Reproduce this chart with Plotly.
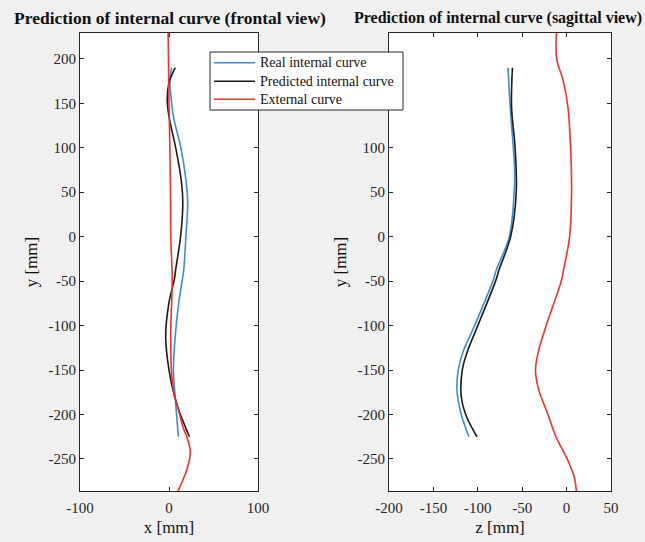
import plotly.graph_objects as go

# ---------------- data (mm) ----------------
# Frontal view (x vs y)
front_ext_y = [229, 200, 150, 100, 50, 0, -40, -56, -75, -100, -125, -150, -175, -200, -215, -225, -242, -262, -275, -286]
front_ext_x = [-1, -0.6, 0, 1, 1.7, 2, 3.5, 3.5, 3, 2, 2, 2.7, 5.5, 12, 16, 20, 24, 20, 15, 10]

front_real_y = [190, 176, 160, 135, 100, 64, 38, 0, -37, -48, -74, -112, -150, -187, -225]
front_real_x = [3, 1, 2, 5, 13.3, 19, 21, 19, 16.6, 15, 11, 7, 5, 7.5, 10.6]

front_pred_y = [190, 173, 154, 135, 100, 64, 38, 0, -37, -48, -74, -112, -150, -180, -198, -213, -225]
front_pred_x = [7, 0, -2, 0, 7.5, 13.7, 15.5, 13, 7.5, 6, 0, -3.7, 0, 6.3, 12, 18, 23]

# Sagittal view (z vs y)
sag_ext_y = [229, 199, 176, 146, 100, 50, 0, -37, -50, -100, -130, -150, -170, -200, -225, -250, -270, -286]
sag_ext_z = [-11.5, -11, -4, 1.5, 4.5, 5.6, 3.4, -3.4, -6, -23, -32, -35, -32, -21, -12, 0.7, 8.5, 11]

sag_real_y = [190, 146, 100, 75, 50, 0, -37, -50, -100, -130, -150, -172, -200, -225]
sag_real_z = [-66, -63.5, -60, -58.5, -59, -64.5, -79, -83, -103.6, -116.8, -122, -123.5, -118.6, -110]

sag_pred_y = [190, 146, 100, 50, 0, -37, -50, -100, -130, -150, -180, -200, -225]
sag_pred_z = [-61, -62, -58, -56.7, -63, -76, -80, -100, -112, -117.5, -118.6, -113.7, -101]

names = ["Real internal curve", "Predicted internal curve", "External curve"]
colors = ["#3a8ed6", "#1a1a1a", "#ff2a2a"]

x_ticks_front = [-100, 0, 100]
x_ticks_sag = [-200, -150, -100, -50, 0, 50]
y_ticks = [-250, -200, -150, -100, -50, 0, 50, 100, 150, 200]

titles = ["Prediction of internal curve (frontal view)", "Prediction of internal curve (sagittal view)"]

FONT = "Liberation Serif, Times New Roman, serif"
AX = "#262626"


def labels(vals):
    return [str(v) for v in vals]  # plain hyphen-minus like the original


fig = go.Figure()

front = [(front_real_x, front_real_y), (front_pred_x, front_pred_y), (front_ext_x, front_ext_y)]
sag = [(sag_real_z, sag_real_y), (sag_pred_z, sag_pred_y), (sag_ext_z, sag_ext_y)]

for i, (xs, ys) in enumerate(front):
    fig.add_trace(go.Scatter(x=xs, y=ys, mode="lines", name=names[i],
                             line=dict(color=colors[i], width=1.6, shape="spline", smoothing=1.0),
                             xaxis="x", yaxis="y", showlegend=False))
for i, (xs, ys) in enumerate(sag):
    fig.add_trace(go.Scatter(x=xs, y=ys, mode="lines", name=names[i],
                             line=dict(color=colors[i], width=1.6, shape="spline", smoothing=1.0),
                             xaxis="x2", yaxis="y2", showlegend=False))

W, H = 645, 542
dom_y = [(H - 491) / H, (H - 33) / H]

common = dict(showline=True, linecolor=AX, linewidth=1, mirror="ticks", ticks="inside",
              ticklen=4, tickcolor=AX, showgrid=False, zeroline=False, automargin=False,
              tickfont=dict(family=FONT, size=15, color=AX),
              title_font=dict(family=FONT, size=17, color="#111"))

fig.update_layout(
    width=W, height=H,
    margin=dict(l=0, r=0, t=0, b=0, pad=0, autoexpand=False),
    paper_bgcolor="#f0f0f0", plot_bgcolor="white",
    xaxis=dict(domain=[80 / W, 258 / W], range=[-100, 100], tickvals=x_ticks_front,
               ticktext=labels(x_ticks_front), ticklabelstandoff=3,
               title=dict(text="x [mm]", standoff=6), anchor="y", **common),
    yaxis=dict(domain=dom_y, range=[-286, 229], tickvals=y_ticks, ticktext=labels(y_ticks),
               title=dict(text="y [mm]", standoff=6), anchor="x", **common),
    xaxis2=dict(domain=[389 / W, 611 / W], range=[-200, 50], tickvals=x_ticks_sag,
                ticktext=labels(x_ticks_sag), ticklabelstandoff=3,
                title=dict(text="z [mm]", standoff=6), anchor="y2", **common),
    yaxis2=dict(domain=dom_y, range=[-286, 229], tickvals=y_ticks, ticktext=labels(y_ticks),
                title=dict(text="y [mm]", standoff=6), anchor="x2", **common),
    showlegend=False,
)

# Titles
fig.add_annotation(text="<b>" + titles[0] + "</b>", xref="paper", yref="paper",
                   x=170 / W, y=(H - 18) / H, showarrow=False, xanchor="center", yanchor="middle",
                   font=dict(family=FONT, size=17.5, color="#111"))
fig.add_annotation(text="<b>" + titles[1] + "</b>", xref="paper", yref="paper",
                   x=498 / W, y=(H - 18) / H, showarrow=False, xanchor="center", yanchor="middle",
                   font=dict(family=FONT, size=16, color="#111"))

# Legend box (MATLAB-style compact legend)
fig.add_shape(type="rect", xref="paper", yref="paper",
              x0=210 / W, x1=403 / W, y0=(H - 110) / H, y1=(H - 52) / H,
              fillcolor="white", line=dict(color=AX, width=1), layer="above")
row_y = [62.7, 81.2, 99.3]
for i in range(3):
    yy = (H - row_y[i]) / H
    fig.add_shape(type="line", xref="paper", yref="paper",
                  x0=214 / W, x1=255 / W, y0=yy, y1=yy,
                  line=dict(color=colors[i], width=1.6), layer="above")
    fig.add_annotation(text=names[i], xref="paper", yref="paper",
                       x=258 / W, y=yy, xanchor="left", yanchor="middle", showarrow=False,
                       font=dict(family=FONT, size=14, color="#111"))

fig.write_html("out.html")
